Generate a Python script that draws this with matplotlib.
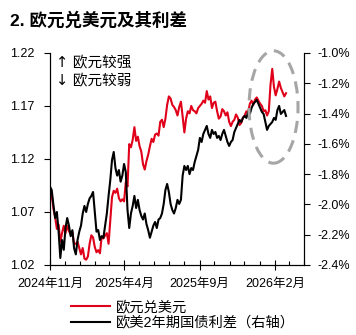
import pandas as pd
import matplotlib.pyplot as plt
import matplotlib.dates as mdates
from matplotlib.patches import Ellipse
from matplotlib.ticker import FuncFormatter, FixedLocator

plt.rcParams['font.family'] = ['Liberation Sans', 'Noto Sans CJK SC']
plt.rcParams['axes.unicode_minus'] = False

# --- 数据：每 3.5 天一个点，2024-11-01 起 ---
START_DATE = '2024-11-01'

# 欧元兑美元（左轴）
eurusd = [
    1.090, 1.086, 1.073, 1.065, 1.054, 1.058, 1.042, 1.050, 1.057, 1.050,
    1.057, 1.052, 1.049, 1.051, 1.040, 1.040, 1.042, 1.036, 1.030, 1.036,
    1.026, 1.025, 1.028, 1.040, 1.048, 1.046, 1.037, 1.032, 1.034, 1.031,
    1.047, 1.045, 1.048, 1.050, 1.040, 1.062, 1.084, 1.090, 1.088, 1.092,
    1.083, 1.080, 1.082, 1.080, 1.098, 1.094, 1.134, 1.131, 1.138, 1.150,
    1.137, 1.141, 1.132, 1.127, 1.115, 1.110, 1.118, 1.124, 1.132, 1.139,
    1.136, 1.143, 1.144, 1.142, 1.155, 1.157, 1.150, 1.158, 1.171, 1.179,
    1.177, 1.171, 1.169, 1.166, 1.161, 1.169, 1.174, 1.160, 1.145, 1.158,
    1.165, 1.163, 1.170, 1.166, 1.165, 1.163, 1.168, 1.170, 1.172, 1.175,
    1.173, 1.184, 1.176, 1.179, 1.168, 1.173, 1.174, 1.165, 1.158, 1.160,
    1.167, 1.165, 1.161, 1.164, 1.155, 1.151, 1.155, 1.157, 1.162, 1.159,
    1.152, 1.154, 1.159, 1.161, 1.165, 1.164, 1.172, 1.175, 1.171, 1.176,
    1.178, 1.175, 1.172, 1.170, 1.165, 1.166, 1.161, 1.165, 1.190, 1.205,
    1.188, 1.180, 1.186, 1.193, 1.187, 1.183, 1.179, 1.182,
]

# 欧美2年期国债利差，%（右轴）
spread = [
    -1.883, -1.905, -2.004, -2.090, -2.050, -2.180, -2.354, -2.235, -2.300, -2.156,
    -2.090, -2.140, -2.210, -2.170, -2.290, -2.330, -2.235, -2.180, -2.140, -2.060,
    -2.010, -2.050, -1.997, -1.960, -1.944, -1.918, -2.050, -2.180, -2.170, -2.235,
    -2.210, -2.220, -2.140, -2.060, -1.944, -1.840, -1.707, -1.654, -1.760, -1.810,
    -1.773, -1.850, -1.810, -1.733, -1.786, -2.037, -2.156, -2.060, -2.010, -1.944,
    -2.024, -1.970, -2.037, -2.076, -2.100, -2.060, -2.130, -2.170, -2.220, -2.180,
    -2.140, -2.116, -2.156, -2.100, -2.090, -2.060, -1.997, -1.905, -1.865, -1.918,
    -1.997, -2.037, -2.060, -2.024, -1.970, -1.997, -1.970, -1.810, -1.746, -1.773,
    -1.746, -1.800, -1.760, -1.773, -1.720, -1.680, -1.640, -1.561, -1.588, -1.535,
    -1.508, -1.482, -1.535, -1.561, -1.508, -1.535, -1.522, -1.561, -1.548, -1.575,
    -1.535, -1.508, -1.548, -1.588, -1.614, -1.588, -1.575, -1.522, -1.495, -1.469,
    -1.442, -1.456, -1.429, -1.416, -1.429, -1.390, -1.403, -1.363, -1.337, -1.324,
    -1.310, -1.337, -1.363, -1.390, -1.403, -1.456, -1.508, -1.482, -1.469, -1.456,
    -1.429, -1.442, -1.377, -1.350, -1.403, -1.390, -1.377, -1.416,
]

x_tick_dates = ['2024-11-01', '2025-04-01', '2025-09-01', '2026-02-01']
x_tick_labels = ['2024年11月', '2025年4月', '2025年9月', '2026年2月']
left_ticks = [1.02, 1.07, 1.12, 1.17, 1.22]
right_ticks = [-2.4, -2.2, -2.0, -1.8, -1.6, -1.4, -1.2, -1.0]

dates = pd.date_range(START_DATE, periods=len(eurusd), freq='84h')

RED = '#e1001a'

fig = plt.figure(figsize=(3.56, 3.35), dpi=100)
ax = fig.add_axes([0.1404, 0.209, 0.7135, 0.633])
ax2 = ax.twinx()

l1, = ax.plot(dates, eurusd, color=RED, linewidth=1.5, label='欧元兑美元')
l2, = ax2.plot(dates, spread, color='black', linewidth=1.5, label='欧美2年期国债利差（右轴）')

ax.set_xlim(pd.Timestamp('2024-11-01'), pd.Timestamp('2026-04-01'))
ax.set_ylim(1.02, 1.22)
ax2.set_ylim(-2.4, -1.0)

ax.yaxis.set_major_locator(FixedLocator(left_ticks))
ax.yaxis.set_major_formatter(FuncFormatter(lambda v, p: f'{v:.2f}'))
ax2.yaxis.set_major_locator(FixedLocator(right_ticks))
ax2.yaxis.set_major_formatter(FuncFormatter(lambda v, p: f'{v:.1f}%'))

ax.set_xticks(pd.to_datetime(x_tick_dates))
ax.set_xticklabels(x_tick_labels)
ax.xaxis.set_minor_locator(mdates.MonthLocator())

for a in (ax, ax2):
    a.spines['top'].set_visible(False)
    for s in a.spines.values():
        s.set_linewidth(0.8)

ax.tick_params(axis='y', direction='out', length=4, width=0.8, labelsize=9, pad=7)
ax2.tick_params(axis='y', direction='out', length=4, width=0.8, labelsize=9, pad=6)
ax.tick_params(axis='x', which='major', direction='inout', length=7, width=0.8, labelsize=9, pad=6)
ax.tick_params(axis='x', which='minor', direction='in', length=3, width=0.8)

# 方向提示
ax.text(0.025, 0.99, '↑ 欧元较强', transform=ax.transAxes, fontsize=10.5,
        va='top', ha='left', family=['DejaVu Sans', 'Noto Sans CJK SC'])
ax.text(0.025, 0.905, '↓ 欧元较弱', transform=ax.transAxes, fontsize=10.5,
        va='top', ha='left', family=['DejaVu Sans', 'Noto Sans CJK SC'])

# 近期走势的虚线圈注（坐标轴比例坐标）
ell = Ellipse((0.88, 0.745), 0.193, 0.53, transform=ax.transAxes, fill=False,
              edgecolor='#a6a6a6', linewidth=2.2, linestyle=(0, (4, 2.5)),
              clip_on=False, zorder=5)
ax2.add_artist(ell)

fig.text(0.028, 0.94, '2. 欧元兑美元及其利差', fontsize=12.6, fontweight='bold',
         va='center', ha='left')

fig.legend(handles=[l1, l2], loc='upper left', bbox_to_anchor=(0.2, 0.104),
           frameon=False, fontsize=10.3, handlelength=2.7, handletextpad=0.4,
           labelspacing=0.1, borderpad=0, borderaxespad=0)

fig.savefig('out.png', dpi=100)
